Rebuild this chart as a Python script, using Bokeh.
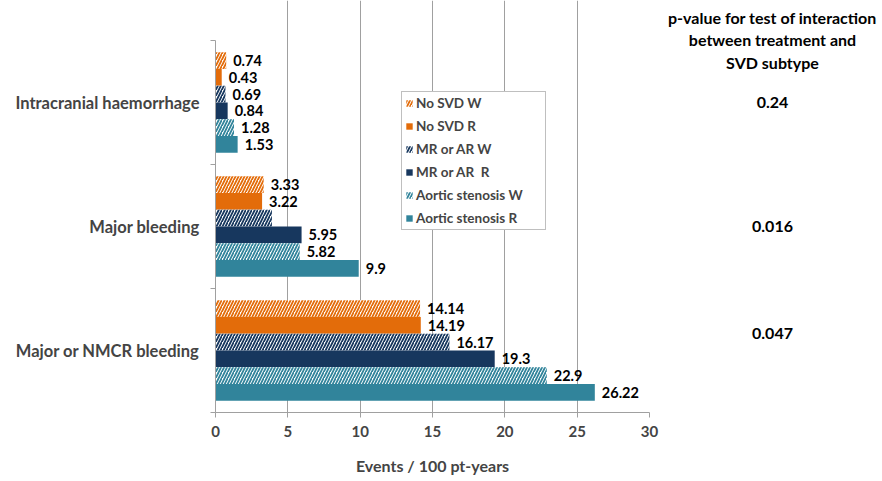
from bokeh.plotting import figure
from bokeh.layouts import row
from bokeh.models import Range1d, FixedTicker, Legend, LegendItem
from bokeh.embed import file_html
from bokeh.resources import INLINE
from bokeh.core.properties import value

# ---------------- data ----------------
categories = ["Intracranial haemorrhage", "Major bleeding", "Major or NMCR bleeding"]
series_names = ["No SVD W", "No SVD R", "MR or AR W", "MR or AR  R",
                "Aortic stenosis W", "Aortic stenosis R"]
no_svd_w = [0.74, 3.33, 14.14]
no_svd_r = [0.43, 3.22, 14.19]
mr_ar_w = [0.69, 3.9, 16.17]
mr_ar_r = [0.84, 5.95, 19.3]
as_w = [1.28, 5.82, 22.9]
as_r = [1.53, 9.9, 26.22]
no_svd_w_lbl = ["0.74", "3.33", "14.14"]
no_svd_r_lbl = ["0.43", "3.22", "14.19"]
mr_ar_w_lbl = ["0.69", "", "16.17"]
mr_ar_r_lbl = ["0.84", "5.95", "19.3"]
as_w_lbl = ["1.28", "5.82", "22.9"]
as_r_lbl = ["1.53", "9.9", "26.22"]
p_values = ["0.24", "0.016", "0.047"]
header_lines = ["p-value for test of interaction", "between treatment and", "SVD subtype"]
x_ticks = [0, 5, 10, 15, 20, 25, 30]

series_values = [no_svd_w, no_svd_r, mr_ar_w, mr_ar_r, as_w, as_r]
series_labels = [no_svd_w_lbl, no_svd_r_lbl, mr_ar_w_lbl, mr_ar_r_lbl, as_w_lbl, as_r_lbl]
colors = ["#E36C0A", "#E36C0A", "#17375E", "#17375E", "#31849B", "#31849B"]
hatched = [True, False, True, False, True, False]

FONT = "Lato"
ncat = len(categories)
xmax = x_ticks[-1]
bar_h = 0.135
centers = [ncat - 0.5 - g for g in range(ncat)]

# ---------------- layout ----------------
H = 478
left_b, right_b, bottom_b = 215, 12, 66
top_gap = 40            # blank space above the category area (holds the p-value header)
frame_w = 434
W1 = left_b + frame_w + right_b
W2 = 878 - W1
px_per_y = (H - bottom_b - top_gap) / ncat
y_end = ncat + top_gap / px_per_y
yr = Range1d(0, y_end)

p = figure(width=W1, height=H, x_range=Range1d(0, xmax), y_range=yr,
           output_backend="svg", toolbar_location=None,
           min_border_left=left_b, min_border_right=right_b, min_border_top=0,
           min_border_bottom=bottom_b)
p.outline_line_color = None
p.background_fill_color = "white"
p.border_fill_color = "white"

legend_items = []
nser = len(series_names)
for i in range(nser):
    ys = [c + ((nser - 1) / 2 - i) * bar_h for c in centers]
    vals = series_values[i]
    if hatched[i]:
        r = p.hbar(y=ys, left=0, right=vals, height=bar_h, fill_color="white",
                   line_color=None, hatch_pattern="/", hatch_color=colors[i],
                   hatch_scale=6, hatch_weight=1.8)
    else:
        r = p.hbar(y=ys, left=0, right=vals, height=bar_h, fill_color=colors[i],
                   line_color=None)
    legend_items.append(LegendItem(label=series_names[i], renderers=[r]))
    p.text(x=vals, y=ys, text=series_labels[i], x_offset=7, text_baseline="middle",
           text_align="left", text_font=value(FONT), text_font_style="bold",
           text_font_size="14.5px", text_color="black")

# axes
p.xaxis.ticker = FixedTicker(ticks=x_ticks)
p.xaxis.axis_label = "Events / 100 pt-years"
p.xaxis.axis_label_text_font = FONT
p.xaxis.axis_label_text_font_style = "bold"
p.xaxis.axis_label_text_font_size = "16px"
p.xaxis.axis_label_standoff = 16
p.xaxis.major_label_text_font = FONT
p.xaxis.major_label_text_font_style = "bold"
p.xaxis.major_label_text_font_size = "15px"
p.xaxis.major_label_standoff = 8
p.xaxis.major_tick_in = 0
p.xaxis.major_tick_out = 5
p.xaxis.minor_tick_line_color = None
p.xaxis.axis_line_color = "#A0A0A0"
p.xaxis.major_tick_line_color = "#A0A0A0"

p.yaxis.ticker = FixedTicker(ticks=centers, minor_ticks=list(range(ncat + 1)))
p.yaxis.bounds = (0, ncat)
p.yaxis.major_label_overrides = {c: categories[g] for g, c in enumerate(centers)}
p.yaxis.major_label_text_font = FONT
p.yaxis.major_label_text_font_style = "bold"
p.yaxis.major_label_text_font_size = "16.5px"
p.yaxis.major_label_standoff = 11
p.yaxis.major_tick_line_color = None
p.yaxis.major_tick_in = 0
p.yaxis.major_tick_out = 0
p.yaxis.minor_tick_in = 0
p.yaxis.minor_tick_out = 5
p.yaxis.minor_tick_line_color = "#A0A0A0"
p.yaxis.axis_line_color = "#A0A0A0"

p.xgrid.ticker = FixedTicker(ticks=x_ticks)
p.xgrid.bounds = (0, ncat)
p.xgrid.grid_line_color = "#A0A0A0"
p.ygrid.grid_line_color = None

legend = Legend(items=legend_items, location=(186, 182))
legend.label_text_font = FONT
legend.label_text_font_style = "bold"
legend.label_text_font_size = "13.5px"
legend.glyph_width = 8
legend.glyph_height = 8
legend.label_height = 16
legend.label_width = 126
legend.spacing = 7
legend.padding = 3
legend.margin = 0
legend.label_standoff = 3
legend.border_line_color = "#7F7F7F"
legend.border_line_width = 1
legend.background_fill_alpha = 1
p.add_layout(legend)

# ---------------- p-value column (shares the category y scale) ----------------
q = figure(width=W2, height=H, x_range=Range1d(0, W2), y_range=yr,
           output_backend="svg", toolbar_location=None,
           x_axis_location=None, y_axis_location=None,
           min_border_left=0, min_border_right=0, min_border_top=0,
           min_border_bottom=bottom_b)
q.outline_line_color = None
q.xgrid.visible = False
q.ygrid.visible = False
q.border_fill_color = "white"

col_x = 111
header_y = [ncat + d for d in (0.185, 0.005, -0.18)]
q.text(x=[col_x] * len(header_lines), y=header_y, text=header_lines, text_align="center",
       text_baseline="middle", text_font=value(FONT), text_font_style="bold",
       text_font_size="16px", text_color="black")
p_y = [centers[0], centers[1], centers[2] + 0.14]
q.text(x=[col_x] * len(p_values), y=p_y, text=p_values, text_align="center",
       text_baseline="middle", text_font=value(FONT), text_font_style="bold",
       text_font_size="16px", text_color="black")

layout = row(p, q, spacing=0)
open("out.html", "w").write(file_html(layout, INLINE))
